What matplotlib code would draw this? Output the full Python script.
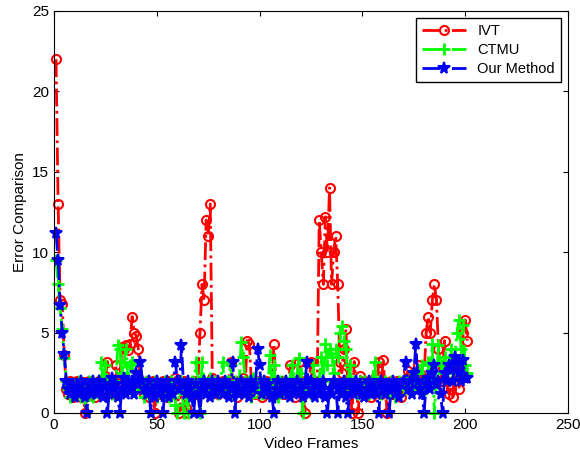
import numpy as np
import matplotlib
matplotlib.use("Agg")
import matplotlib.pyplot as plt

plt.rcParams['font.family'] = ['Liberation Sans', 'DejaVu Sans']

frames = np.arange(1, 202)

ivt = [22, 13, 7, 6.8, 3.6, 1.5, 1.2, 2.0, 1.0, 1.8,
       2.0, 1.3, 1.0, 1.9, 0.0, 1.5, 2.0, 1.2, 1.8, 1.0,
       1.5, 2.0, 1.3, 1.8, 2.2, 3.2, 1.6, 2.0, 1.2, 3.0,
       1.8, 2.0, 4.1, 4.0, 4.2, 3.9, 4.3, 6.0, 5.0, 4.8,
       4.0, 2.0, 1.5, 1.2, 2.0, 1.0, 1.8, 2.0, 0.0, 1.5,
       1.2, 1.8, 2.0, 1.3, 1.0, 2.0, 1.5, 1.8, 2.2, 1.2,
       0.0, 1.6, 2.0, 0.3, 0.0, 1.8, 1.5, 2.0, 1.2, 1.8,
       5.0, 8.0, 7.0, 12.0, 11.0, 13.0, 2.2, 1.5, 2.0, 1.2,
       1.8, 2.0, 1.5, 1.2, 2.0, 3.2, 1.8, 1.4, 1.0, 2.0,
       1.6, 2.2, 1.8, 4.5, 4.3, 2.0, 1.5, 1.2, 2.0, 1.8,
       1.0, 1.5, 2.0, 1.8, 1.2, 2.0, 4.3, 1.6, 1.2, 1.8,
       2.0, 1.2, 1.5, 1.8, 3.0, 2.0, 1.0, 1.8, 3.2, 2.0,
       1.5, 0.0, 2.0, 1.8, 3.2, 1.2, 2.0, 1.5, 12.0, 10.0,
       8.0, 12.2, 10.0, 14.0, 8.0, 10.0, 11.0, 8.0, 3.2, 2.5,
       4.0, 5.2, 2.0, 1.5, 0.0, 3.2, 1.8, 0.0, 2.3, 1.5,
       2.0, 1.2, 1.8, 1.0, 2.0, 2.2, 1.5, 3.2, 1.2, 3.3,
       1.8, 0.0, 1.5, 2.0, 1.2, 1.8, 2.0, 1.5, 1.0, 2.0,
       1.8, 2.6, 1.5, 2.0, 2.5, 1.8, 3.0, 1.5, 2.0, 2.2,
       5.0, 6.0, 5.0, 7.0, 8.0, 7.0, 4.0, 2.0, 2.8, 4.5,
       2.0, 1.2, 1.5, 1.0, 3.0, 2.5, 1.5, 3.0, 5.0, 5.8,
       4.5]

ctmu = [9.5, 8.0, 6.5, 5.2, 3.4, 2.0, 1.5, 1.0, 1.8, 1.2,
        1.5, 2.0, 1.0, 1.6, 0.8, 1.2, 2.0, 1.4, 1.0, 1.8,
        1.5, 2.0, 3.2, 1.8, 3.0, 2.0, 1.5, 1.2, 2.0, 1.5,
        4.2, 4.0, 2.5, 3.2, 4.0, 2.0, 3.0, 3.2, 1.5, 2.0,
        1.8, 2.2, 1.5, 1.0, 2.0, 1.2, 1.8, 1.5, 2.0, 1.0,
        1.5, 1.8, 1.2, 2.0, 1.5, 1.0, 2.0, 1.4, 0.5, 0.0,
        1.5, 2.0, 0.0, 1.2, 0.0, 1.8, 2.0, 1.5, 3.2, 2.0,
        0.0, 3.2, 2.0, 1.5, 1.8, 2.2, 1.8, 1.5, 2.0, 1.2,
        1.8, 3.2, 1.5, 2.0, 1.8, 3.0, 1.2, 2.0, 1.8, 1.5,
        4.4, 3.5, 2.0, 1.5, 2.0, 1.0, 2.2, 1.8, 1.5, 2.0,
        1.2, 2.0, 1.8, 1.5, 3.6, 2.0, 3.0, 1.5, 1.0, 2.0,
        1.5, 2.0, 1.8, 1.2, 2.2, 3.0, 1.5, 2.0, 3.4, 2.5,
        0.0, 1.8, 2.0, 1.5, 1.2, 3.0, 2.0, 1.5, 2.0, 3.5,
        2.0, 4.3, 3.0, 4.0, 3.5, 2.5, 4.0, 3.5, 5.0, 5.4,
        4.5, 4.0, 2.0, 3.0, 1.5, 2.0, 1.8, 1.2, 2.0, 1.5,
        2.0, 1.8, 1.2, 1.5, 2.2, 3.2, 1.5, 2.0, 1.2, 1.8,
        2.0, 1.5, 1.2, 2.0, 1.8, 1.0, 1.5, 2.0, 1.8, 1.5,
        2.0, 1.5, 2.2, 1.8, 1.5, 2.0, 2.5, 1.8, 3.0, 2.0,
        1.5, 3.2, 2.0, 4.3, 0.0, 2.0, 4.2, 3.0, 2.5, 3.5,
        2.2, 3.0, 4.0, 2.5, 3.5, 5.0, 5.8, 4.0, 5.5, 3.0,
        2.5]

ours = [11.2, 9.5, 6.7, 5.0, 3.7, 2.0, 1.5, 1.2, 1.8, 1.0,
        1.5, 1.2, 2.0, 1.4, 1.0, 0.0, 1.8, 1.2, 2.0, 1.5,
        1.2, 2.0, 1.5, 1.0, 1.8, 0.0, 1.5, 2.2, 1.2, 1.8,
        1.0, 0.0, 1.5, 2.2, 1.2, 1.8, 1.5, 2.0, 1.2, 2.5,
        1.8, 3.2, 2.0, 1.5, 1.2, 2.0, 0.0, 1.5, 1.0, 2.0,
        1.2, 1.8, 0.0, 1.5, 2.0, 1.0, 1.5, 1.2, 3.2, 2.0,
        1.5, 4.2, 1.8, 1.2, 2.0, 1.5, 1.0, 0.0, 1.8, 1.2,
        0.0, 1.5, 2.0, 1.2, 1.8, 1.0, 2.0, 1.5, 1.2, 2.0,
        1.5, 1.2, 2.0, 1.8, 1.0, 1.5, 3.2, 0.0, 1.8, 1.2,
        2.0, 1.5, 1.2, 1.8, 1.0, 2.0, 1.5, 1.8, 4.0, 3.0,
        1.2, 2.0, 1.5, 1.8, 1.2, 1.0, 0.0, 1.5, 2.0, 1.2,
        1.8, 1.5, 2.0, 1.2, 1.0, 1.8, 1.5, 2.0, 1.2, 1.5,
        1.0, 1.8, 3.2, 1.2, 2.0, 1.5, 1.0, 1.8, 1.2, 1.5,
        2.0, 1.0, 0.0, 1.5, 1.2, 2.0, 1.8, 0.0, 1.5, 1.2,
        2.0, 1.0, 0.0, 1.8, 1.5, 1.2, 2.0, 1.5, 1.8, 1.2,
        1.0, 1.5, 2.0, 1.2, 1.8, 1.5, 1.2, 0.0, 2.0, 1.5,
        1.2, 1.8, 0.0, 1.5, 2.0, 1.2, 1.5, 1.0, 1.8, 2.0,
        3.2, 1.5, 2.0, 1.2, 2.5, 4.3, 2.0, 1.5, 1.2, 0.0,
        1.8, 2.2, 1.5, 2.5, 3.0, 1.8, 2.0, 1.2, 0.0, 2.5,
        2.0, 3.0, 2.7, 2.0, 3.5, 3.2, 2.5, 2.0, 3.3, 2.2,
        2.2]

fig = plt.figure(figsize=(5.8, 4.57), dpi=100)
ax = fig.add_axes([54/580, 44/457, 514/580, 402/457])

ax.plot(frames, ivt, linestyle='-.', color='#ff0000', linewidth=2,
        marker='o', markersize=6.5, markerfacecolor='none', markeredgewidth=1.5,
        label='IVT', clip_on=False)
ax.plot(frames, ctmu, linestyle='-.', color='#00ff00', linewidth=2,
        marker='+', markersize=8, markeredgewidth=2, label='CTMU', clip_on=False)
ax.plot(frames, ours, linestyle='-.', color='#0000ee', linewidth=2,
        marker='*', markersize=8.5, markeredgewidth=1.5, label='Our Method',
        clip_on=False)

ax.set_xlim(0, 250)
ax.set_ylim(0, 25)
ax.set_xticks([0, 50, 100, 150, 200, 250])
ax.set_yticks([0, 5, 10, 15, 20, 25])
ax.tick_params(which="both", direction="in", top=True, right=True, labelsize=11)
ax.set_xlabel('Video Frames', fontsize=11)
ax.set_ylabel('Error Comparison', fontsize=11)

leg = ax.legend(loc='upper right', fontsize=10.5, handlelength=3,
                fancybox=False, edgecolor='black', framealpha=1,
                borderaxespad=0.5, labelspacing=0.35)
leg.get_frame().set_linewidth(1)

fig.savefig('out.png', dpi=100)
